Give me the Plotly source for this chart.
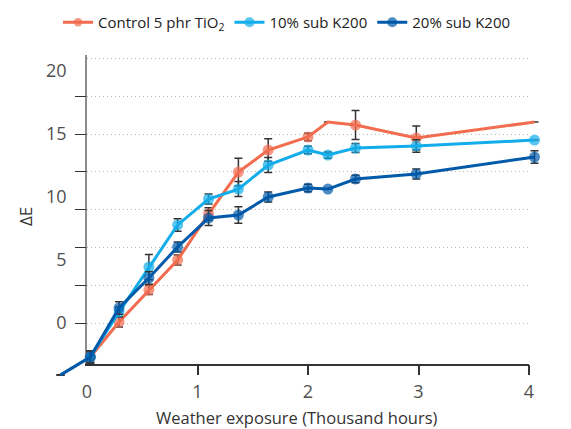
import plotly.graph_objects as go

# ---------------- data ----------------
hours = [-0.24, 0.03, 0.29, 0.56, 0.82, 1.10, 1.37, 1.64, 2.00, 2.18, 2.43, 2.98, 4.05]

control = [-4.13, -2.70, 0.08, 2.62, 5.00, 8.65, 11.98, 13.73, 14.76, 15.95, 15.71, 14.68, 15.95]
control_err = [None, 0.5, 0.4, 0.35, 0.4, 0.5, 1.1, 0.9, 0.3, None, 1.15, 0.95, None]
control_measured = [False, True, True, True, True, True, True, True, True, False, True, True, False]

sub10 = [-4.13, -2.70, 0.87, 4.44, 7.78, 9.84, 10.63, 12.54, 13.73, 13.33, 13.89, 14.05, 14.52]
sub10_err = [None, 0.4, 0.4, 1.0, 0.5, 0.4, 0.6, 0.6, 0.3, 0.25, 0.35, 0.5, None]
sub10_measured = [False, True, True, True, True, True, True, True, True, True, True, True, True]

sub20 = [-4.13, -2.70, 1.19, 3.57, 6.03, 8.33, 8.57, 10.00, 10.71, 10.63, 11.43, 11.83, 13.17]
sub20_err = [None, 0.5, 0.5, 0.5, 0.4, 0.6, 0.65, 0.4, 0.3, None, 0.3, 0.4, 0.5]
sub20_measured = [False, True, True, True, True, True, True, True, True, True, True, True, True]

series_names = ["Control 5 phr TiO<sub>2</sub>", "10% sub K200", "20% sub K200"]
x_tick_labels = ["0", "1", "2", "3", "4"]
y_tick_labels = ["0", "5", "10", "15", "20"]
x_label_vals = [0, 1, 2, 3, 4]
y_label_vals = [0, 5, 10, 15, 20]

# ---------------- geometry ----------------
W, H = 571, 429
X0_PX, PX_PER_X = 87.0, 110.5      # pixel of x=0 and pixels per unit
Y0_PX, PX_PER_Y = 323.0, 12.6      # pixel of y=0 and pixels per unit
BOX_L, BOX_R, BOX_T, BOX_B = 87.0, 529.0, 55.0, 364.0


def px2x(p):
    return (p - X0_PX) / PX_PER_X


def px2y(p):
    return (Y0_PX - p) / PX_PER_Y


colors = ["#F26C4F", "#12ADEA", "#0059A9"]
err_color = "#333333"
grid_color = "#b5b5b5"

fig = go.Figure()

# empty traces so that the frame axes get drawn
fig.add_trace(go.Scatter(x=[None], y=[None], xaxis="x", yaxis="y",
                         showlegend=False, hoverinfo="skip"))
fig.add_trace(go.Scatter(x=[None], y=[None], xaxis="x3", yaxis="y2",
                         showlegend=False, hoverinfo="skip"))

for name, ys, errs, meas, col in [
    (series_names[0], control, control_err, control_measured, colors[0]),
    (series_names[1], sub10, sub10_err, sub10_measured, colors[1]),
    (series_names[2], sub20, sub20_err, sub20_measured, colors[2]),
]:
    fig.add_trace(go.Scatter(
        x=hours, y=ys, name=name, mode="lines+markers",
        line=dict(color=col, width=3),
        marker=dict(color=col, size=[11 if m else 0 for m in meas], line=dict(width=0)),
        error_y=dict(type="data", array=errs, visible=True, color=err_color,
                     thickness=1.5, width=4),
        xaxis="x2", yaxis="y3", cliponaxis=False,
    ))

axis_font = dict(family="Open Sans", size=18, color="#505050")

fig.update_layout(
    width=W, height=H,
    margin=dict(l=0, r=0, t=0, b=0),
    paper_bgcolor="white", plot_bgcolor="rgba(0,0,0,0)",
    font=dict(family="Open Sans", color="#333333"),
    showlegend=True,
    legend=dict(orientation="h", x=58 / W, y=1 - 6 / H, xanchor="left", yanchor="top",
                font=dict(family="Open Sans", size=15, color="#222222"),
                bgcolor="rgba(0,0,0,0)", tracegroupgap=0, itemwidth=30),
    # visible frame axes
    xaxis=dict(domain=[BOX_L / W, BOX_R / W], range=[px2x(BOX_L), px2x(BOX_R)],
               anchor="y", tickvals=x_label_vals, ticktext=x_tick_labels,
               ticks="outside", ticklen=11, tickcolor="rgba(0,0,0,0)",
               showline=True, linecolor="#333333", linewidth=1.5,
               showgrid=False, zeroline=False, tickfont=axis_font, automargin=False),
    xaxis3=dict(overlaying="x", anchor="y", range=[px2x(BOX_L), px2x(BOX_R)],
                tickvals=[1, 2, 3, 4], ticks="outside", ticklen=10, tickwidth=1.5,
                tickcolor="#333333", showticklabels=False, showline=False,
                showgrid=False, zeroline=False, automargin=False),
    yaxis=dict(domain=[(H - BOX_B) / H, (H - BOX_T) / H], range=[px2y(BOX_B), px2y(BOX_T)],
               anchor="x", tickvals=y_label_vals, ticktext=y_tick_labels,
               ticks="outside", ticklen=15, tickcolor="rgba(0,0,0,0)",
               showline=True, linecolor="#8c8c8c", linewidth=1.5,
               showgrid=False, zeroline=False, tickfont=axis_font, automargin=False),
    yaxis2=dict(overlaying="y", anchor="x", range=[px2y(BOX_B), px2y(BOX_T)],
                tickvals=[0, 3, 6, 9, 12, 15, 18], ticks="outside", ticklen=11,
                tickwidth=1.2, tickcolor="#333333", showticklabels=False,
                showline=False, showgrid=True, gridcolor=grid_color, griddash="1px,3px",
                gridwidth=1, zeroline=False, automargin=False,
                minor=dict(tickvals=[21], showgrid=True, gridcolor=grid_color,
                           griddash="1px,3px", gridwidth=1, ticks="")),
    # data axes (invisible, full page, same scale)
    xaxis2=dict(domain=[0, 1], range=[px2x(0), px2x(W)], anchor="y3", visible=False),
    yaxis3=dict(domain=[0, 1], range=[px2y(H), px2y(0)], anchor="x2", visible=False),
    annotations=[
        dict(text="Weather exposure (Thousand hours)", xref="paper", yref="paper",
             x=297 / W, y=1 - 417 / H, showarrow=False, xanchor="center", yanchor="middle",
             font=dict(family="Open Sans", size=16.5, color="#333333")),
        dict(text="ΔE", xref="paper", yref="paper", x=25 / W, y=1 - 217 / H,
             showarrow=False, textangle=-90, xanchor="center", yanchor="middle",
             font=dict(family="Open Sans", size=17, color="#333333")),
    ],
)

fig.write_html("out.html")
